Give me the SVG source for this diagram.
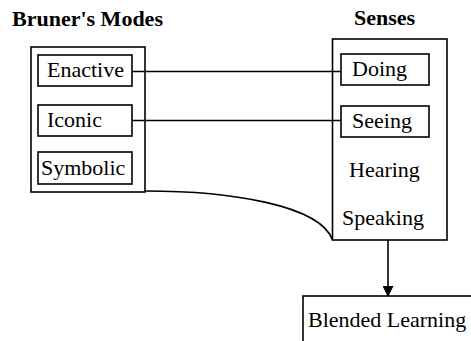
<svg xmlns="http://www.w3.org/2000/svg" width="471" height="341" viewBox="0 0 471 341">
<defs>
<style>
.box{fill:none;stroke:#000;stroke-width:1.6}
.t{font-family:"Liberation Serif","Times New Roman",serif;font-size:22px;fill:#000}
.h{font-family:"Liberation Serif","Times New Roman",serif;font-size:22px;font-weight:bold;fill:#000}
.c{fill:none;stroke:#000;stroke-width:1.6}
</style>
<marker id="arr" markerWidth="11" markerHeight="11" refX="10" refY="5.5" orient="auto" markerUnits="userSpaceOnUse">
<path d="M0,0 L11,5.5 L0,11 Z" fill="#000"/>
</marker>
</defs>
<rect width="471" height="341" fill="#fff"/>
<text class="h" x="12" y="26">Bruner's Modes</text>
<text class="h" x="354" y="25">Senses</text>
<g id="bruner">
<rect class="box" x="31" y="47" width="114" height="145"/>
</g>
<g id="enactive">
<rect class="box" x="38" y="55" width="94" height="31"/>
<text class="t" x="47" y="77">Enactive</text>
</g>
<g id="iconic">
<rect class="box" x="38" y="105" width="94" height="31"/>
<text class="t" x="47" y="127">Iconic</text>
</g>
<g id="symbolic">
<rect class="box" x="38" y="152" width="94" height="32"/>
<text class="t" x="41" y="175">Symbolic</text>
</g>
<g id="senses">
<rect class="box" x="332.5" y="39" width="114.5" height="201"/>
<text class="t" x="349" y="177">Hearing</text>
<text class="t" x="342" y="225">Speaking</text>
</g>
<g id="doing">
<rect class="box" x="341" y="54" width="88" height="31"/>
<text class="t" x="352" y="76">Doing</text>
</g>
<g id="seeing">
<rect class="box" x="341" y="106" width="88" height="31"/>
<text class="t" x="352" y="128">Seeing</text>
</g>
<g id="blended">
<rect class="box" x="303" y="296" width="180" height="60"/>
<text class="t" x="308" y="327">Blended Learning</text>
</g>
<g id="connectors">
<line class="c" x1="132" y1="71.5" x2="341" y2="71.5"/>
<line class="c" x1="132" y1="120.5" x2="341" y2="120.5"/>
<path class="c" d="M145,191 C230,191 320,205 332.5,240"/>
<line class="c" x1="388" y1="240" x2="388" y2="296" marker-end="url(#arr)"/>
</g>
</svg>
